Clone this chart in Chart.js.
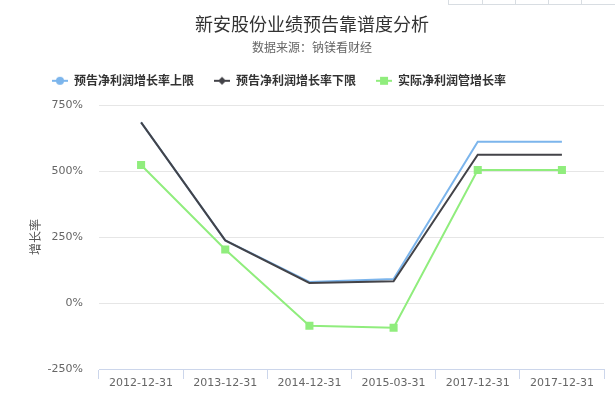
<!DOCTYPE html>
<html><head><meta charset="utf-8">
<script src="https://cdn.jsdelivr.net/npm/chart.js@4/dist/chart.umd.min.js"></script>
<style>
html,body{margin:0;padding:0;background:#fff;overflow:hidden}
#wrap{position:relative;width:615px;height:401px}
canvas{display:block}
.tb{position:absolute;top:0;height:4px;border-bottom:1px solid #d8dde2;border-left:1px solid #d8dde2}
</style></head><body>
<div id="wrap"><canvas id="c" width="615" height="401"></canvas>
<div class="tb" style="left:448px;width:33px"></div>
<div class="tb" style="left:482px;width:32px"></div>
<div class="tb" style="left:515px;width:32px"></div>
<div class="tb" style="left:548px;width:32px"></div>
<div class="tb" style="left:581px;width:34px"></div>
</div>
<script>
const categories = ['2012-12-31','2013-12-31','2014-12-31','2015-03-31','2017-12-31','2017-12-31'];
const upperForecast = [684, 237, 80, 91, 611, 611];
const lowerForecast = [684, 237, 76, 82, 562, 562];
const actualGrowth = [523, 203, -86, -94, 504, 504];
const seriesNames = ['预告净利润增长率上限','预告净利润增长率下限','实际净利润管增长率'];
const yMin = -250, yMax = 750, yStep = 250;

const FONT = '"DejaVu Sans", "Noto Sans CJK SC", sans-serif';
const CJK = '"Noto Sans CJK SC", "DejaVu Sans", sans-serif';
const colors = ['#7cb5ec', '#434348', '#90ed7d'];
const shapes = ['circle', 'diamond', 'square'];

function legendSymbol(color, shape) {
  const c = document.createElement('canvas');
  c.width = 16; c.height = 12;
  const x = c.getContext('2d');
  x.strokeStyle = color; x.lineWidth = 2;
  x.beginPath(); x.moveTo(0, 6); x.lineTo(16, 6); x.stroke();
  x.fillStyle = color;
  x.beginPath();
  if (shape === 'circle') { x.arc(8, 6, 4, 0, Math.PI * 2); }
  else if (shape === 'diamond') { x.moveTo(8, 2); x.lineTo(12, 6); x.lineTo(8, 10); x.lineTo(4, 6); x.closePath(); }
  else { x.rect(4, 2, 8, 8); }
  x.fill();
  return c;
}

const legendShift = {
  id: 'legendShift',
  afterLayout(chart) {
    const lg = chart.legend;
    if (!lg) return;
    const dx = 32 - lg.left, dy = 54.8 - lg.top;
    lg.left += dx; lg.right += dx; lg.top += dy; lg.bottom += dy;
  }
};

new Chart(document.getElementById('c'), {
  type: 'line',
  data: {
    labels: categories,
    datasets: [
      { label: seriesNames[0], data: upperForecast, borderColor: colors[0], backgroundColor: colors[0], borderWidth: 2, pointRadius: 0, tension: 0, order: 2 },
      { label: seriesNames[1], data: lowerForecast, borderColor: colors[1], backgroundColor: colors[1], borderWidth: 2, pointRadius: 0, tension: 0, order: 1 },
      { label: seriesNames[2], data: actualGrowth, borderColor: colors[2], backgroundColor: colors[2], borderWidth: 2, pointRadius: 5.7, pointStyle: 'rect', pointBorderWidth: 0, pointBackgroundColor: colors[2], tension: 0, order: 0 }
    ]
  },
  options: {
    responsive: false,
    animation: false,
    layout: { padding: { left: 20, right: 11, top: 0, bottom: 0 } },
    plugins: {
      tooltip: { enabled: false },
      title: { display: true, text: '新安股份业绩预告靠谱度分析', color: '#333', font: { family: CJK, size: 18, weight: 'normal' }, padding: { top: 13, bottom: 0 } },
      subtitle: { display: true, text: '数据来源：钠镁看财经', color: '#666', font: { family: CJK, size: 12, weight: 'normal' }, padding: { top: 6, bottom: 8 } },
      legend: {
        display: true, position: 'top', align: 'start',
        labels: {
          usePointStyle: true, pointStyleWidth: 16, padding: 20,
          color: '#333', font: { family: CJK, size: 12, weight: 'bold' },
          generateLabels(chart) {
            return chart.data.datasets.map((ds, i) => ({
              text: ds.label, fontColor: '#333', pointStyle: legendSymbol(colors[i], shapes[i]),
              fillStyle: colors[i], strokeStyle: colors[i], lineWidth: 0, hidden: false, datasetIndex: i
            }));
          }
        }
      }
    },
    scales: {
      x: {
        offset: true,
        grid: { offset: true, drawOnChartArea: false, drawTicks: true, tickLength: 10, tickColor: '#ccd6eb' },
        border: { display: true, color: '#ccd6eb', width: 1 },
        ticks: { color: '#666', font: { family: FONT, size: 11 }, padding: -2, maxRotation: 0, autoSkip: false },
        afterFit(s) { s.height = 32; }
      },
      y: {
        min: yMin, max: yMax,
        grid: { color: '#e6e6e6', drawTicks: false },
        border: { display: false },
        ticks: { stepSize: yStep, color: '#666', font: { family: FONT, size: 11 }, padding: 16, callback: v => v + '%' },
        title: { display: true, text: '增长率', color: '#555', font: { family: CJK, size: 12 }, padding: { top: 8, bottom: 0 } },
        afterFit(s) { s.width = 79; }
      }
    }
  },
  plugins: [legendShift]
});
</script>
</body></html>
